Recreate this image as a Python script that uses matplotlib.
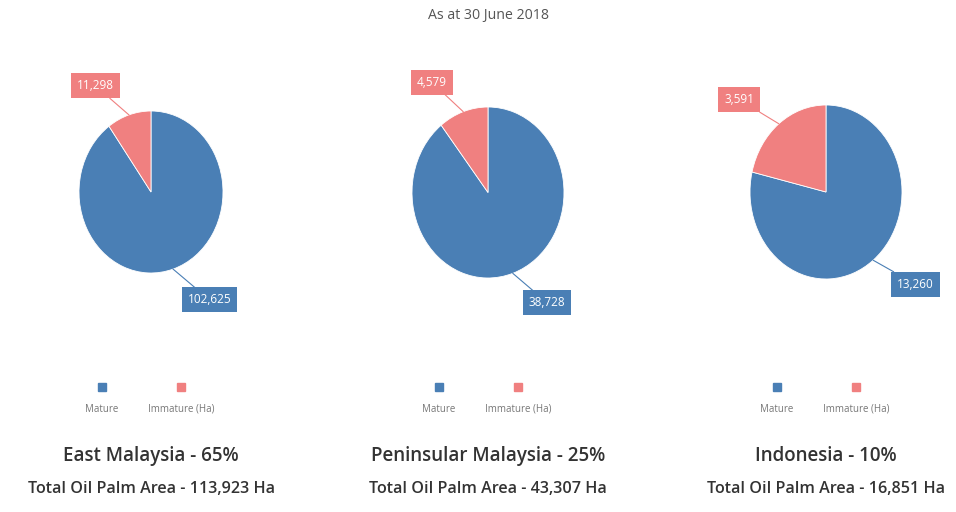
import matplotlib
matplotlib.use("Agg")
import numpy as np
import matplotlib.pyplot as plt
from matplotlib.patches import Rectangle

plt.rcParams['font.family'] = ['Open Sans', 'DejaVu Sans']

# data
regions = ["East Malaysia", "Peninsular Malaysia", "Indonesia"]
shares = [65, 25, 10]
mature = [102625, 38728, 13260]
immature = [11298, 4579, 3591]
totals = [113923, 43307, 16851]
series_names = ["Mature", "Immature (Ha)"]
colors = ["#4a7fb5", "#f08080"]
subtitle = "As at 30 June 2018"

W, H = 956, 512
fig = plt.figure(figsize=(W / 100, H / 100), dpi=100)


def fx(x):
    return x / W


def fy(y):
    return 1 - y / H


# layout (pixels)
centres = [(151, 192), (488, 192.5), (826, 192)]
radii = [(72, 81), (76, 85.5), (76, 87)]
# label box positions in pie units: (mature, immature)
label_pos = [[(0.81, -1.33), (-0.77, 1.31)],
             [(0.78, -1.29), (-0.74, 1.29)],
             [(1.18, -1.06), (-1.14, 1.06)]]

fig.text(fx(488), fy(16), subtitle, ha="center", va="center",
         fontsize=10.2, color="#555555")

for i in range(len(regions)):
    cx, cy = centres[i]
    rx, ry = radii[i]
    ax = fig.add_axes([fx(cx - rx), fy(cy + ry), 2 * rx / W, 2 * ry / H])
    vals = [mature[i], immature[i]]
    wedges, _ = ax.pie(vals, colors=colors, startangle=90, counterclock=False,
                       wedgeprops=dict(edgecolor="white", linewidth=0.6))
    ax.set_aspect("auto")
    ax.set_xlim(-1, 1)
    ax.set_ylim(-1, 1)
    for j, w in enumerate(wedges):
        th = np.deg2rad((w.theta1 + w.theta2) / 2)
        ax.annotate(f"{vals[j]:,}", xy=(np.cos(th), np.sin(th)),
                    xytext=label_pos[i][j], ha="center", va="center",
                    color="white", fontsize=8.5,
                    bbox=dict(boxstyle="square,pad=0.5", fc=colors[j], ec="none"),
                    arrowprops=dict(arrowstyle="-", color=colors[j], lw=0.8,
                                    shrinkA=0, shrinkB=0),
                    annotation_clip=False)

    # legend
    for j, off in enumerate([-49, 30]):
        lx = cx + off
        fig.patches.append(Rectangle((fx(lx - 4), fy(391)), 8 / W, 8 / H,
                                     transform=fig.transFigure, color=colors[j]))
        fig.text(fx(lx), fy(409), series_names[j], ha="center", va="center",
                 fontsize=7, color="#777777")

    fig.text(fx(cx), fy(456), f"{regions[i]} - {shares[i]}%", ha="center",
             va="center", fontsize=13.5, color="#333333", fontweight="semibold")
    fig.text(fx(cx), fy(489), f"Total Oil Palm Area - {totals[i]:,} Ha",
             ha="center", va="center", fontsize=11.6, color="#333333",
             fontweight="semibold")

fig.savefig("out.png", dpi=100)
